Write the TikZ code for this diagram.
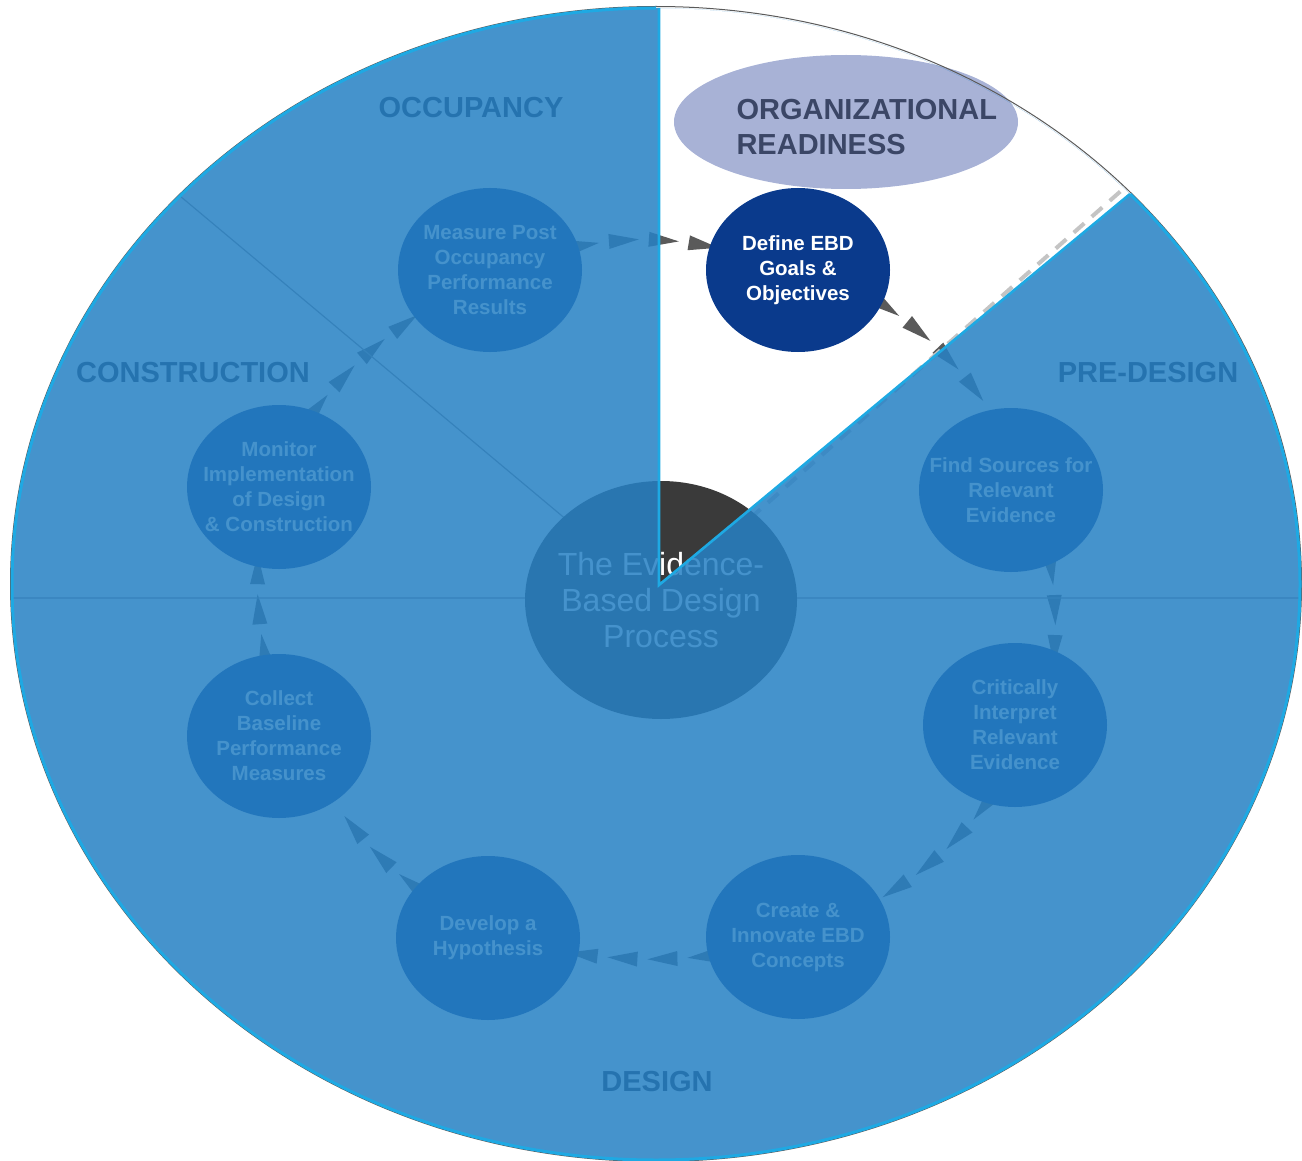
\documentclass[tikz,border=0pt]{standalone}
\usepackage{fontspec}
\setmainfont{Liberation Sans}
\usetikzlibrary{shapes.geometric, decorations.markings}

\definecolor{ebdnavy}{HTML}{0A3A8C}
\definecolor{ebdlavender}{HTML}{A8B2D6}
\definecolor{ebdslate}{HTML}{3B4666}
\definecolor{ebdgray}{HTML}{5A5A5A}
\definecolor{ebdcore}{HTML}{3A3A3A}
\definecolor{ebdwash}{HTML}{2781C4}
\definecolor{ebdcyan}{HTML}{1EA9E3}
\definecolor{ebdlabel}{HTML}{1A2030}
\definecolor{ebdpale}{HTML}{C4C4C4}

\pgfdeclarelayer{back}
\pgfsetlayers{back,main}

\begin{document}
\begin{tikzpicture}[x=1pt, y=1pt,
    phase/.style={ellipse, fill=ebdnavy, text=white, inner sep=-30pt, minimum width=184pt, minimum height=164pt, align=center, font=\fontsize{20.5}{25}\selectfont\bfseries},
    stage/.style={text=ebdlabel, font=\fontsize{29}{35}\selectfont\bfseries},
    trail/.style={decorate, decoration={markings, mark=between positions 6pt and 1 step 40pt with {\fill[ebdgray] (-15pt,-7.5pt) -- (15pt,0pt) -- (-15pt,7.5pt) -- cycle;}}}]

    \useasboundingbox (0,0) rectangle (1302,-1161);

    \coordinate (hub) at (660,-598);
    \coordinate (apex) at (659,-585);
    \coordinate (rimtop) at (659,-8);
    \coordinate (rimray) at (1130,-194);
    \coordinate (rimdash) at (1122,-190);
    \coordinate (rimnw) at (180,-196);

    \begin{scope}
      \clip (656,-584) ellipse [x radius=644, y radius=576];
      \draw[ebdgray!70, line width=1.2] (12,-598) -- (1300,-598) (hub) -- (rimnw);
      \draw[ebdpale, line width=4, dash pattern=on 14pt off 10pt] (hub) -- (rimdash);
    \end{scope}

    \fill[ebdlavender] (846,-122) ellipse [x radius=172, y radius=67];
    \node[text=ebdslate, align=left, anchor=west, font=\fontsize{29}{35}\selectfont\bfseries] (readiness) at (733,-127) {ORGANIZATIONAL\\READINESS};

    \node[ellipse, fill=ebdcore, text=white, minimum width=272pt, minimum height=238pt, inner sep=-20pt, align=center, font=\fontsize{32}{36}\selectfont] (core) at (661,-600) {The Evidence-\\Based Design\\Process};

    \node[phase] (define) at (798,-270) {Define EBD\\Goals \&\\Objectives};
    \node[phase] (find) at (1011,-490) {Find Sources for\\Relevant\\Evidence};
    \node[phase] (interpret) at (1015,-725) {Critically\\Interpret\\Relevant\\Evidence};
    \node[phase] (create) at (798,-937) {Create \&\\Innovate EBD\\Concepts};
    \node[phase] (hypothesis) at (488,-938) {Develop a\\Hypothesis};
    \node[phase] (baseline) at (279,-736) {Collect\\Baseline\\Performance\\Measures};
    \node[phase] (monitor) at (279,-487) {Monitor\\Implementation\\of Design\\\& Construction};
    \node[phase] (measure) at (490,-270) {Measure Post\\Occupancy\\Performance\\Results};

    \node[stage] (occupancy) at (471,-108) {OCCUPANCY};
    \node[stage] (construction) at (193,-373) {CONSTRUCTION};
    \node[stage] (predesign) at (1148,-373) {PRE-DESIGN};
    \node[stage] (design) at (657,-1082) {DESIGN};

    \begin{pgfonlayer}{back}
      \path[trail] (measure.15) to[bend left=10] (define.165);
      \path[trail] (define.-22) to[bend left=10] (find.105);
      \path[trail] (find.-62) to[bend left=5] (interpret.62);
      \path[trail] (interpret.-110) to[bend left=10] (create.25);
      \path[trail] (create.192) to[bend left=6] (hypothesis.-10);
      \path[trail] (hypothesis.145) to[bend left=8] (baseline.-50);
      \path[trail] (baseline.100) to[bend left=5] (monitor.-105);
      \path[trail] (monitor.65) to[bend left=8] (measure.-148);
    \end{pgfonlayer}

    \begin{scope}
      \clip (656,-584) ellipse [x radius=644, y radius=576];
      \fill[ebdwash, fill opacity=.86, even odd rule] (656,-584) ellipse [x radius=644, y radius=576] (apex) -- ++(39.7:900) |- (659,50) -- cycle;
    \end{scope}

    \draw[ebdgray, line width=1] (656,-584) ellipse [x radius=645.5, y radius=577.5];
    \draw[ebdcyan, line width=3] (656,-8) arc[start angle=90, end angle=402.6, x radius=644, y radius=576];
    \draw[ebdcyan, line width=2.6] (rimtop) -- (apex) -- (rimray);

\end{tikzpicture}
\end{document}
